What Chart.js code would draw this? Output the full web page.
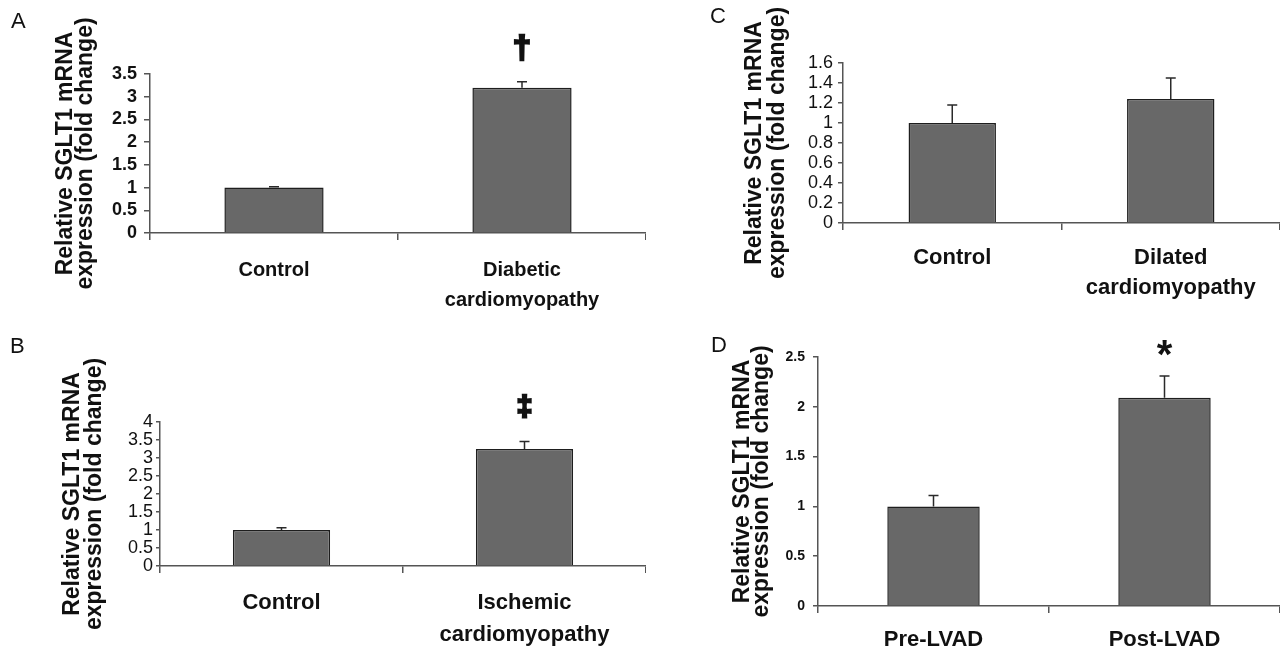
<!DOCTYPE html>
<html lang="en">
<head>
<meta charset="UTF-8">
<title>Relative SGLT1 mRNA expression</title>
<script src="https://cdn.jsdelivr.net/npm/chart.js@4.4.0/dist/chart.umd.min.js"></script>
<style>
    body { margin: 0; background: #fff; font-family: "Liberation Sans", Arial, sans-serif; }
    #page { position: relative; width: 1280px; height: 650px; overflow: hidden; }
    .panel { position: absolute; }
    .letter { position: absolute; font-size: 22px; line-height: 22px; color: #111; }
</style>
</head>
<body>
<div id="page">
    <div class="panel" style="left:0;top:0"><canvas id="chartA" width="646" height="325"></canvas></div>
    <div class="panel" style="left:0;top:325px"><canvas id="chartB" width="646" height="325"></canvas></div>
    <div class="panel" style="left:646px;top:0"><canvas id="chartC" width="634" height="325"></canvas></div>
    <div class="panel" style="left:646px;top:325px"><canvas id="chartD" width="634" height="325"></canvas></div>
    <div class="letter" style="left:11px;top:10px">A</div>
    <div class="letter" style="left:10px;top:335px">B</div>
    <div class="letter" style="left:710px;top:5px">C</div>
    <div class="letter" style="left:711px;top:334px">D</div>
</div>
<script>
const yTitle = ['Relative SGLT1 mRNA', 'expression (fold change)'];

// A - diabetic
const labelsA = ['Control', ['Diabetic', 'cardiomyopathy']];
const valuesA = [1.0, 3.2];
const errorsA = [0.02, 0.13];
const marksA = ['', '\u2020'];
const ticksA = [0, 0.5, 1, 1.5, 2, 2.5, 3, 3.5];

// B - ischemic
const labelsB = ['Control', ['Ischemic', 'cardiomyopathy']];
const valuesB = [1.0, 3.25];
const errorsB = [0.06, 0.21];
const marksB = ['', '\u2021'];
const ticksB = [0, 0.5, 1, 1.5, 2, 2.5, 3, 3.5, 4];

// C - dilated
const labelsC = ['Control', ['Dilated', 'cardiomyopathy']];
const valuesC = [1.0, 1.24];
const errorsC = [0.18, 0.21];
const marksC = ['', ''];
const ticksC = [0, 0.2, 0.4, 0.6, 0.8, 1, 1.2, 1.4, 1.6];

// D - LVAD
const labelsD = ['Pre-LVAD', 'Post-LVAD'];
const valuesD = [1.0, 2.09];
const errorsD = [0.11, 0.22];
const marksD = ['', '*'];
const ticksD = [0, 0.5, 1, 1.5, 2, 2.5];

const FONT = '"Liberation Sans", Arial, sans-serif';
const AXIS = '#555';

// upper error bars + significance marks
const errorBars = {
    id: 'errorBars',
    afterDatasetsDraw(chart, args, opts) {
        const meta = chart.getDatasetMeta(0);
        const y = chart.scales.y;
        const ctx = chart.ctx;
        const data = chart.data.datasets[0].data;
        ctx.save();
        meta.data.forEach((bar, i) => {
            const top = y.getPixelForValue(data[i] + opts.errors[i]);
            ctx.strokeStyle = '#2a2a2a';
            ctx.lineWidth = 1.5;
            ctx.beginPath();
            ctx.moveTo(bar.x, bar.y);
            ctx.lineTo(bar.x, top);
            ctx.moveTo(bar.x - 5, top);
            ctx.lineTo(bar.x + 5, top);
            ctx.stroke();
            if (opts.marks[i]) {
                ctx.fillStyle = '#111';
                ctx.strokeStyle = '#111';
                ctx.lineWidth = opts.markStroke;
                ctx.font = opts.markFont;
                ctx.textAlign = 'center';
                ctx.textBaseline = 'alphabetic';
                ctx.fillText(opts.marks[i], bar.x, top - opts.markGap);
                if (opts.markStroke) ctx.strokeText(opts.marks[i], bar.x, top - opts.markGap);
            }
        });
        ctx.restore();
    }
};

function makePanel(id, labels, values, errors, marks, ticks, s) {
    new Chart(document.getElementById(id), {
        type: 'bar',
        data: {
            labels: labels,
            datasets: [{
                data: values,
                backgroundColor: '#686868',
                borderColor: '#1e1e1e',
                borderWidth: 1.5,
                barPercentage: 0.4,
                categoryPercentage: 1.0
            }]
        },
        options: {
            responsive: false,
            animation: false,
            devicePixelRatio: 1,
            layout: { padding: { top: s.padTop, left: 0, right: 0, bottom: 0 } },
            plugins: {
                legend: { display: false },
                tooltip: { enabled: false },
                errorBars: {
                    errors: errors, marks: marks,
                    markFont: s.markFont, markGap: s.markGap, markStroke: s.markStroke
                }
            },
            scales: {
                x: {
                    grid: { offset: true, drawOnChartArea: false, color: AXIS, lineWidth: 1.5, tickLength: 7 },
                    border: { color: AXIS, width: 1.5 },
                    ticks: {
                        color: '#111',
                        autoSkip: false,
                        maxRotation: 0,
                        padding: s.xPad,
                        font: { family: FONT, size: s.xSize, weight: 'bold', lineHeight: s.xLh }
                    },
                    afterFit: sc => { sc.height = s.xHeight; }
                },
                y: {
                    min: ticks[0],
                    max: ticks[ticks.length - 1],
                    grid: { drawOnChartArea: false, color: AXIS, lineWidth: 1.5, tickLength: s.tickLen },
                    border: { color: AXIS, width: 1.5 },
                    ticks: {
                        color: '#111',
                        autoSkip: false,
                        padding: s.tickPad,
                        font: { family: FONT, size: s.tickSize, weight: s.tickWeight },
                        callback: v => String(v)
                    },
                    afterBuildTicks: sc => { sc.ticks = ticks.map(v => ({ value: v })); },
                    title: {
                        display: true,
                        text: yTitle,
                        color: '#111',
                        padding: { top: s.titlePad, bottom: 0 },
                        font: { family: FONT, size: s.titleSize, weight: 'bold', lineHeight: s.titleLh }
                    },
                    afterFit: sc => { sc.width = s.yWidth; }
                }
            }
        },
        plugins: [errorBars]
    });
}

makePanel('chartA', labelsA, valuesA, errorsA, marksA, ticksA, {
    padTop: 74, yWidth: 150, xHeight: 92,
    tickSize: 18, tickWeight: 'bold', tickLen: 6, tickPad: 7,
    titleSize: 23, titleLh: 20 / 23, titlePad: 56,
    xSize: 20, xLh: 1.5, xPad: 15,
    markFont: 'bold 32px ' + FONT, markGap: 24, markStroke: 2.5
});

makePanel('chartB', labelsB, valuesB, errorsB, marksB, ticksB, {
    padTop: 97, yWidth: 160, xHeight: 84,
    tickSize: 18, tickWeight: 'normal', tickLen: 4, tickPad: 3,
    titleSize: 23, titleLh: 22.5 / 23, titlePad: 61,
    xSize: 22, xLh: 32 / 22, xPad: 14,
    markFont: 'bold 28px ' + FONT, markGap: 26, markStroke: 2.5
});

makePanel('chartC', labelsC, valuesC, errorsC, marksC, ticksC, {
    padTop: 63, yWidth: 197, xHeight: 102,
    tickSize: 18, tickWeight: 'normal', tickLen: 5, tickPad: 5,
    titleSize: 23, titleLh: 1.0, titlePad: 97.5,
    xSize: 22, xLh: 30 / 22, xPad: 13,
    markFont: 'bold 28px ' + FONT, markGap: 20, markStroke: 0
});

makePanel('chartD', labelsD, valuesD, errorsD, marksD, ticksD, {
    padTop: 32, yWidth: 172, xHeight: 44,
    tickSize: 14, tickWeight: 'bold', tickLen: 5, tickPad: 8,
    titleSize: 23, titleLh: 19 / 23, titlePad: 87,
    xSize: 22, xLh: 30 / 22, xPad: 12,
    markFont: 'bold 40px ' + FONT, markGap: 8, markStroke: 0
});
</script>
</body>
</html>
